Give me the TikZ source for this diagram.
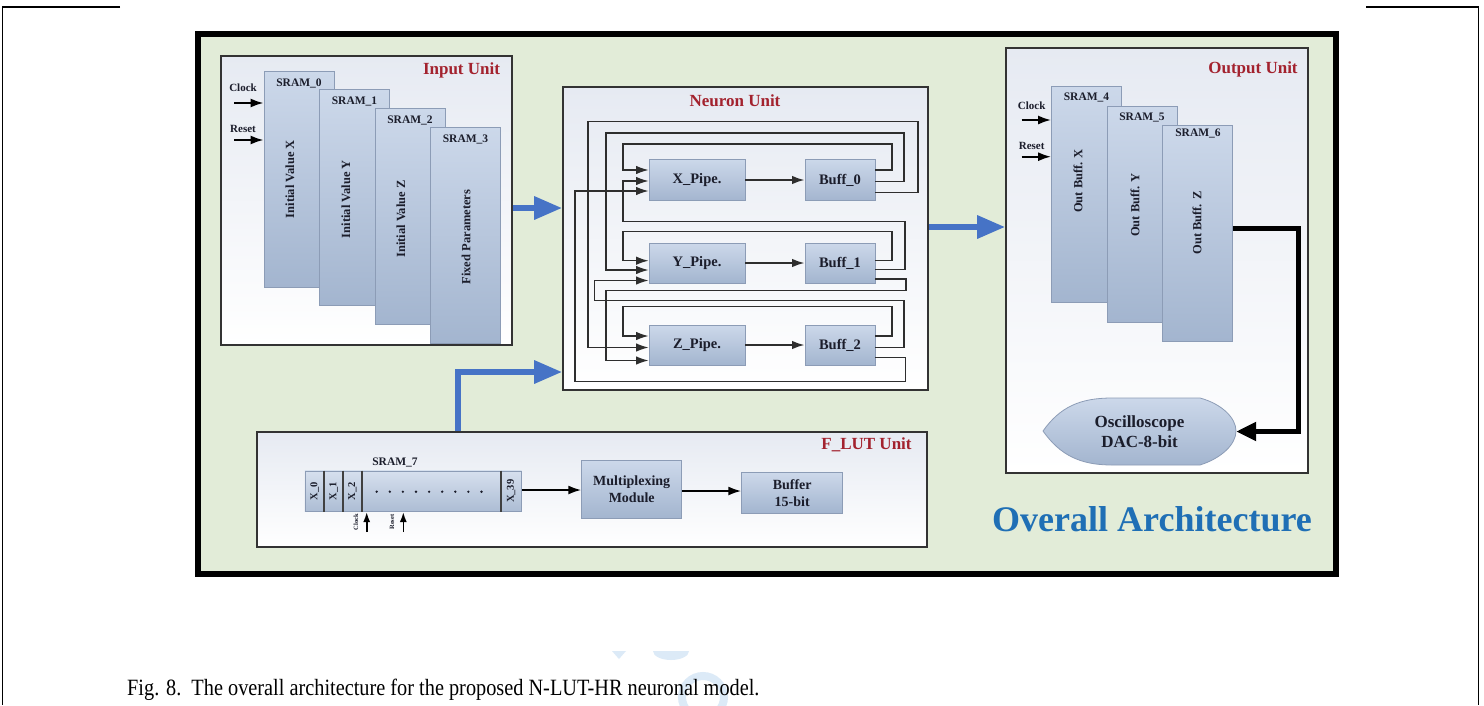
\documentclass[tikz,border=0pt]{standalone}
\usepackage{fontspec}
\usepackage{graphicx}
\setmainfont{Liberation Serif}
\usetikzlibrary{arrows.meta,calc}

\definecolor{archgreen}{HTML}{E2ECD8}
\definecolor{unitred}{HTML}{A3222E}
\definecolor{flowblue}{HTML}{4673C6}
\definecolor{titleblue}{HTML}{1F6FB5}
\definecolor{blocktop}{HTML}{CCD8EA}
\definecolor{blockbot}{HTML}{A3B5CF}
\definecolor{blockedge}{HTML}{8C9CB6}
\definecolor{inktext}{HTML}{1B1D2B}
\definecolor{wire}{HTML}{2E2E2E}
\definecolor{unittop}{HTML}{E6EAF2}
\definecolor{markblue}{HTML}{DCEAF7}

\tikzset{
  unitbox/.style={draw=black!80, line width=1.6pt, top color=unittop, bottom color=white, inner sep=0pt},
  memblock/.style={draw=blockedge, line width=0.8pt, top color=blocktop, bottom color=blockbot,
    inner sep=0pt, minimum width=70pt, minimum height=216pt},
  procbox/.style={draw=blockedge, line width=0.8pt, top color=blocktop, bottom color=blockbot,
    inner sep=0pt, text=inktext, align=center, font=\fontsize{14.5}{17}\selectfont\bfseries},
  unittitle/.style={text=unitred, font=\fontsize{17}{19}\selectfont\bfseries, inner sep=0pt},
  memlabel/.style={text=inktext, font=\fontsize{11.5}{13}\selectfont\bfseries, inner sep=0pt},
  vlabel/.style={text=inktext, font=\fontsize{12.5}{14}\selectfont\bfseries, rotate=90, inner sep=0pt},
  siglabel/.style={text=inktext, font=\fontsize{11}{12}\selectfont\bfseries, inner sep=0pt},
  tinylabel/.style={text=inktext, font=\fontsize{6.5}{7}\selectfont\bfseries, rotate=90, inner sep=0pt},
  sigarrow/.style={draw=black, line width=2pt, -{Latex[length=13pt,width=9pt]}},
  wirearrow/.style={draw=wire, line width=1.4pt, -{Latex[length=12.5pt,width=8.5pt]}},
  busarrow/.style={draw=flowblue, line width=6pt, line join=miter, -{Triangle[length=28pt,width=22pt]}},
  outarrow/.style={draw=black, line width=5pt, line join=miter, -{Triangle[length=20pt,width=18pt]}},
  divider/.style={draw=black!75, line width=2pt},
}

\begin{document}
\begin{tikzpicture}[x=1pt,y=-1pt]
\useasboundingbox (0,0) rectangle (1484,705);
\fill[white] (0,0) rectangle (1484,705);

% page rules
\draw[line width=1.5pt] (120,7) -- (2.5,7) -- (2.5,705);
\draw[line width=1.5pt] (1366,7) -- (1478.5,7) -- (1478.5,705);

% architecture frame
\draw[line width=6pt, fill=archgreen] (198,34) rectangle (1336,574);

% unit boxes
\node[unitbox, minimum width=291pt, minimum height=289pt] (inunit) at (366.5,200.5) {};
\node[unitbox, minimum width=365pt, minimum height=303pt] (neuron) at (745.5,238.5) {};
\node[unitbox, minimum width=302pt, minimum height=425pt] (outunit) at (1157,260.5) {};
\node[unitbox, minimum width=670pt, minimum height=115pt] (flut) at (592,489.5) {};

\node[unittitle] (intitle) at (461.5,70) {Input Unit};
\node[unittitle] (neutitle) at (735,101) {Neuron Unit};
\node[unittitle] (outtitle) at (1253,69.5) {Output Unit};
\node[unittitle] (fluttitle) at (866.5,445) {F\_LUT Unit};

% ---- input memories
\node[memblock] (s0) at (299,179) {};
\node[memlabel] (s0l) at (299,83) {SRAM\_0};
\node[vlabel] (s0t) at (290,179) {Initial Value X};
\node[memblock] (s1) at (354.5,197.7) {};
\node[memlabel] (s1l) at (354.5,101.5) {SRAM\_1};
\node[vlabel] (s1t) at (346,199) {Initial Value Y};
\node[memblock] (s2) at (410,216.4) {};
\node[memlabel] (s2l) at (410,120) {SRAM\_2};
\node[vlabel] (s2t) at (401,219) {Initial Value Z};
\node[memblock] (s3) at (465.5,235.1) {};
\node[memlabel] (s3l) at (465.5,139) {SRAM\_3};
\node[vlabel] (s3t) at (466,237) {Fixed Parameters};

\node[siglabel] (ck0l) at (243,88) {Clock};
\node[siglabel] (rs0l) at (243,129) {Reset};
\coordinate (ck0) at (234,103);
\coordinate (rs0) at (234,140);
\draw[sigarrow] (ck0) -- (ck0 -| s0.west);
\draw[sigarrow] (rs0) -- (rs0 -| s0.west);

% ---- neuron pipelines
\node[procbox, minimum width=96pt, minimum height=41pt] (xp) at (697,180) {X\_Pipe.};
\node[procbox, minimum width=70pt, minimum height=41pt] (b0) at (840,180) {Buff\_0};
\node[procbox, minimum width=96pt, minimum height=40pt] (yp) at (697,263) {Y\_Pipe.};
\node[procbox, minimum width=70pt, minimum height=40pt] (b1) at (840,263) {Buff\_1};
\node[procbox, minimum width=96pt, minimum height=40pt] (zp) at (697,345) {Z\_Pipe.};
\node[procbox, minimum width=70pt, minimum height=40pt] (b2) at (840,345) {Buff\_2};

\draw[wirearrow, line width=1.8pt] (xp.east) -- (b0.west);
\draw[wirearrow, line width=1.8pt] (yp.east) -- (b1.west);
\draw[wirearrow, line width=1.8pt] (zp.east) -- (b2.west);

% feedback from Buff_0
\draw[wirearrow] (b0.east |- 0,170) -- (892,170) -- (892,144) -- (623,144) -- (623,170) -- (xp.west |- 0,170);
\draw[wirearrow] (b0.east |- 0,181.5) -- (904,181.5) -- (904,133) -- (606,133) -- (606,270) -- (yp.west |- 0,270);
\draw[wirearrow] (b0.east |- 0,192.5) -- (918,192.5) -- (918,121.7) -- (588,121.7) -- (588,347.5) -- (zp.west |- 0,347.5);
% feedback from Buff_1
\draw[wirearrow] (b1.east |- 0,260.7) -- (892,260.7) -- (892,231.7) -- (623,231.7) -- (623,260.7) -- (yp.west |- 0,260.7);
\draw[wirearrow] (b1.east |- 0,269.5) -- (905,269.5) -- (905,221.7) -- (623,221.7) -- (623,181) -- (xp.west |- 0,181);
\draw[wirearrow] (b1.east |- 0,279) -- (906,279) -- (906,290.7) -- (606,290.7) -- (606,360.5) -- (zp.west |- 0,360.5);
% feedback from Buff_2
\draw[wirearrow] (b2.east |- 0,336) -- (892,336) -- (892,306.7) -- (623,306.7) -- (623,336) -- (zp.west |- 0,336);
\draw[wirearrow] (b2.east |- 0,347.3) -- (904,347.3) -- (904,300.7) -- (594.3,300.7) -- (594.3,280.5) -- (yp.west |- 0,280.5);
\draw[wirearrow] (b2.east |- 0,357.3) -- (905.7,357.3) -- (905.7,381.7) -- (575,381.7) -- (575,191) -- (xp.west |- 0,191);

% ---- output memories
\node[memblock] (s4) at (1086.5,194.7) {};
\node[memlabel] (s4l) at (1086.5,97.5) {SRAM\_4};
\node[vlabel] (s4t) at (1078,181) {Out Buff. X};
\node[memblock] (s5) at (1142,214) {};
\node[memlabel] (s5l) at (1142,117.3) {SRAM\_5};
\node[vlabel] (s5t) at (1135,205) {Out Buff. Y};
\node[memblock] (s6) at (1197.5,233) {};
\node[memlabel] (s6l) at (1198,133.5) {SRAM\_6};
\node[vlabel] (s6t) at (1197,223) {Out Buff. Z};

\node[siglabel] (ck4l) at (1031.7,106) {Clock};
\node[siglabel] (rs4l) at (1031.7,146) {Reset};
\coordinate (ck4) at (1021.7,120);
\coordinate (rs4) at (1021.7,156.7);
\draw[sigarrow] (ck4) -- (ck4 -| s4.west);
\draw[sigarrow] (rs4) -- (rs4 -| s4.west);

% oscilloscope display
\draw[draw=blockedge, line width=0.8pt, top color=blocktop, bottom color=blockbot]
  (1043,431) .. controls (1060,407) and (1080,398) .. (1112,398) -- (1200,398)
  .. controls (1222,404) and (1236,418) .. (1236,431)
  .. controls (1236,444) and (1222,458) .. (1200,465) -- (1112,465)
  .. controls (1080,465) and (1060,455) .. (1043,431) -- cycle;
\node[minimum width=193pt, minimum height=67pt, inner sep=0pt, align=center, text=inktext,
  font=\fontsize{17}{20}\selectfont\bfseries] (osc) at (1139.5,431.5) {Oscilloscope\\DAC-8-bit};
\draw[outarrow] (s6.east |- 0,228) -| (1298,431.5) -- (osc.east);

% ---- F_LUT unit
\node[draw=blockedge, line width=0.8pt, top color=blocktop!80!white, bottom color=blockbot!90!white,
  minimum width=216.7pt, minimum height=40.7pt, inner sep=0pt] (sram7) at (413.3,491.3) {};
\foreach \dx in {324,343.3,361.7,500.7}
  \draw[divider] (\dx,0 |- sram7.north) -- (\dx,0 |- sram7.south);
\node[memlabel] (s7l) at (395,462.7) {SRAM\_7};
\node[vlabel, font=\fontsize{10.5}{12}\selectfont\bfseries] (c0) at (314.5,491.3) {X\_0};
\node[vlabel, font=\fontsize{10.5}{12}\selectfont\bfseries] (c1) at (333.7,491.3) {X\_1};
\node[vlabel, font=\fontsize{10.5}{12}\selectfont\bfseries] (c2) at (352.5,491.3) {X\_2};
\node[vlabel, font=\fontsize{10.5}{12}\selectfont\bfseries] (c39) at (511,491.3) {X\_39};
\foreach \i in {0,...,8}
  \fill[inktext] (376.7+13.1*\i,491.7) circle (1.3);

\coordinate (ck7) at (366.7,532);
\coordinate (rs7) at (403.3,532);
\draw[sigarrow, line width=1.6pt, -{Latex[length=10pt,width=7pt]}] (ck7) -- (ck7 |- sram7.south);
\draw[sigarrow, line width=1.6pt, -{Latex[length=10pt,width=7pt]}] (rs7) -- (rs7 |- sram7.south);
\node[tinylabel] (ck7l) at (356,522) {Clock};
\node[tinylabel] (rs7l) at (392,522) {Reset};

\node[procbox, minimum width=100pt, minimum height=57.6pt, font=\fontsize{14}{16.6}\selectfont\bfseries] (mux) at (631.7,489.5) {Multiplexing\\Module};
\node[procbox, minimum width=101pt, minimum height=40.6pt, font=\fontsize{14}{17}\selectfont\bfseries] (fbuf) at (792.2,493) {Buffer\\15-bit};
\draw[sigarrow] (sram7.east |- 0,490) -- (mux.west |- 0,490);
\draw[sigarrow] (mux.east |- 0,491) -- (fbuf.west |- 0,491);

% ---- data buses between units
\draw[busarrow] (inunit.east |- 0,208) -- (neuron.west |- 0,208);
\draw[busarrow] (neuron.east |- 0,227) -- (outunit.west |- 0,227);
\draw[busarrow] (458,0 |- flut.north) |- (neuron.west |- 0,372);

\node[text=titleblue, font=\fontsize{36}{40}\selectfont\bfseries, inner sep=0pt] (archtitle) at (1152,519) {Overall Architecture};

% faint page mark
\fill[markblue] (612,651) -- (626,651) -- (619,659) -- cycle;
\fill[markblue] (653,651) -- (689,651) arc[start angle=0, end angle=180, x radius=18, y radius=9] -- cycle;
\draw[markblue, line width=8pt] (703,697) circle (21);

\node[anchor=west, inner sep=0pt, font=\fontsize{20.3}{22}\selectfont] (caption) at (127,690)
  {\scalebox{1}[1.15]{Fig. 8.\enspace The overall architecture for the proposed N-LUT-HR neuronal model.}};
\end{tikzpicture}
\end{document}
